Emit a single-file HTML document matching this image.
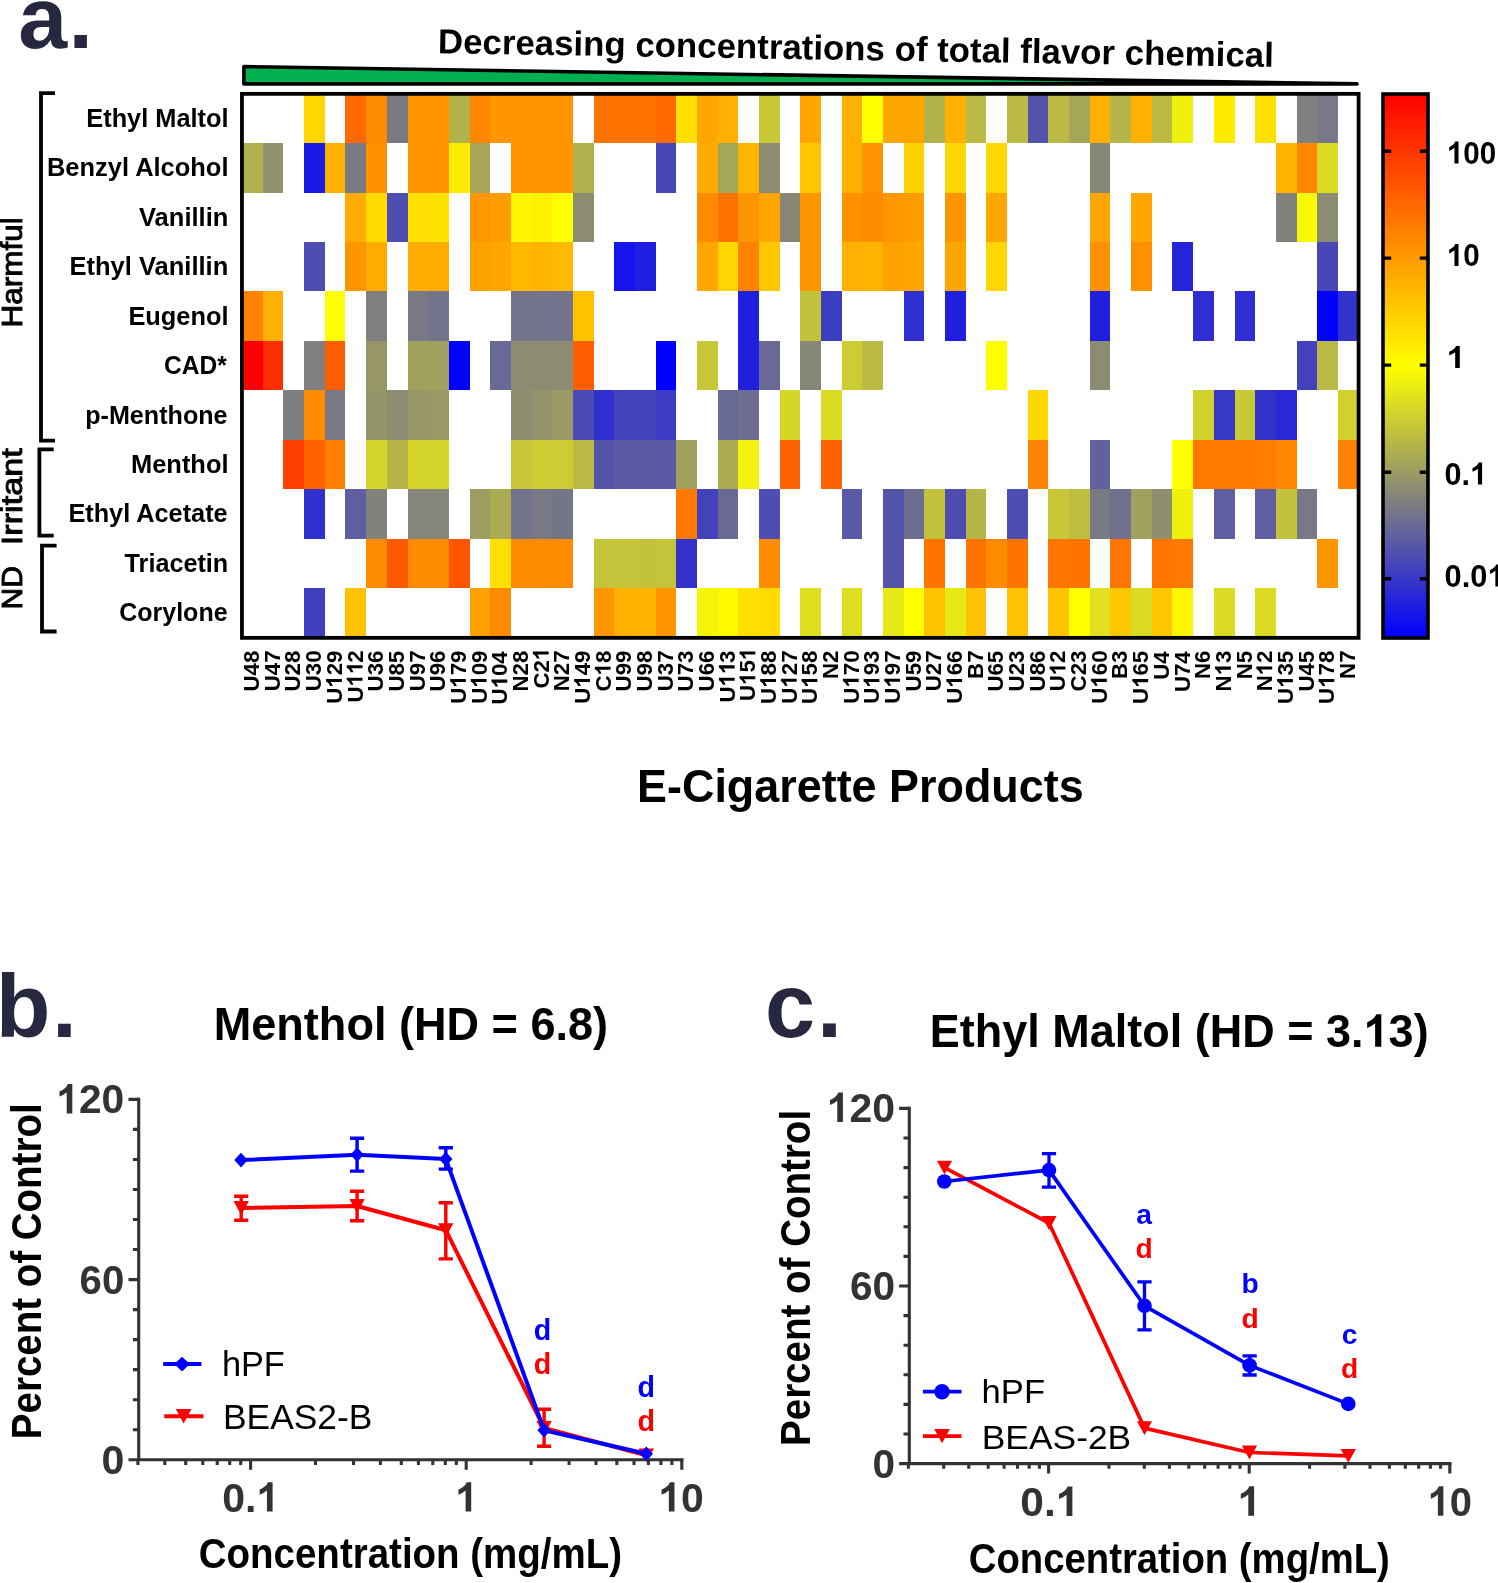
<!DOCTYPE html>
<html><head><meta charset="utf-8"><title>Figure</title>
<style>html,body{margin:0;padding:0;background:#fff;width:1498px;height:1583px;overflow:hidden}svg{display:block;will-change:transform}text{font-family:'Liberation Sans',sans-serif}</style></head><body>
<svg width="1498" height="1583" viewBox="0 0 1498 1583">
<rect width="1498" height="1583" fill="#fff"/>
<defs><linearGradient id="cb" x1="0" y1="0" x2="0" y2="1"><stop offset="0" stop-color="#ff0000"/><stop offset="0.5" stop-color="#ffff00"/><stop offset="1" stop-color="#0000ff"/></linearGradient></defs>
<text x="18.3" y="48.2" font-size="88" font-weight="bold" fill="#27273f">a<tspan dx="1.2">.</tspan></text>
<g transform="rotate(0.95 440.2 53.2)">
<text transform="translate(437.85 53.20) scale(1.0038 1)" font-size="34.7" font-weight="bold">Decreasing concentrations of total flavor chemical</text>
</g>
<polygon points="243.9,66.6 243.9,83.9 1357,83.9" fill="#00b050" stroke="#000" stroke-width="3.6" stroke-linejoin="round"/>
<g shape-rendering="crispEdges">
<rect x="304.12" y="93.65" width="20.68" height="49.44" fill="#ffd600"/>
<rect x="345.48" y="93.65" width="20.67" height="49.44" fill="#ff6900"/>
<rect x="366.15" y="93.65" width="20.68" height="49.44" fill="#ff8c00"/>
<rect x="386.82" y="93.65" width="20.68" height="49.44" fill="#7a7a85"/>
<rect x="407.50" y="93.65" width="41.35" height="49.44" fill="#ff9600"/>
<rect x="448.85" y="93.65" width="20.67" height="49.44" fill="#b2b24c"/>
<rect x="469.52" y="93.65" width="20.68" height="49.44" fill="#ff8700"/>
<rect x="490.20" y="93.65" width="82.70" height="49.44" fill="#ff9600"/>
<rect x="593.58" y="93.65" width="62.02" height="49.44" fill="#ff7300"/>
<rect x="655.60" y="93.65" width="20.67" height="49.44" fill="#ff6b00"/>
<rect x="676.27" y="93.65" width="20.68" height="49.44" fill="#ffe000"/>
<rect x="696.95" y="93.65" width="20.67" height="49.44" fill="#ffa600"/>
<rect x="717.62" y="93.65" width="20.68" height="49.44" fill="#ffb000"/>
<rect x="758.98" y="93.65" width="20.68" height="49.44" fill="#c7c738"/>
<rect x="800.33" y="93.65" width="20.67" height="49.44" fill="#ffa600"/>
<rect x="841.68" y="93.65" width="20.67" height="49.44" fill="#ffb000"/>
<rect x="862.35" y="93.65" width="20.68" height="49.44" fill="#ffff00"/>
<rect x="883.03" y="93.65" width="41.35" height="49.44" fill="#ffa600"/>
<rect x="924.38" y="93.65" width="20.68" height="49.44" fill="#b2b24c"/>
<rect x="945.05" y="93.65" width="20.67" height="49.44" fill="#ffb000"/>
<rect x="965.73" y="93.65" width="20.68" height="49.44" fill="#baba45"/>
<rect x="1007.08" y="93.65" width="20.67" height="49.44" fill="#baba45"/>
<rect x="1027.75" y="93.65" width="20.67" height="49.44" fill="#5252ad"/>
<rect x="1048.42" y="93.65" width="20.67" height="49.44" fill="#baba45"/>
<rect x="1069.10" y="93.65" width="20.68" height="49.44" fill="#a6a659"/>
<rect x="1089.78" y="93.65" width="20.67" height="49.44" fill="#ffb000"/>
<rect x="1110.45" y="93.65" width="20.67" height="49.44" fill="#b5b54a"/>
<rect x="1131.12" y="93.65" width="20.67" height="49.44" fill="#ffb000"/>
<rect x="1151.80" y="93.65" width="20.67" height="49.44" fill="#baba45"/>
<rect x="1172.47" y="93.65" width="20.68" height="49.44" fill="#f0f00f"/>
<rect x="1213.83" y="93.65" width="20.67" height="49.44" fill="#ffeb00"/>
<rect x="1255.17" y="93.65" width="20.67" height="49.44" fill="#ffe000"/>
<rect x="1296.52" y="93.65" width="20.68" height="49.44" fill="#808080"/>
<rect x="1317.20" y="93.65" width="20.67" height="49.44" fill="#787887"/>
<rect x="242.10" y="143.09" width="20.67" height="49.44" fill="#b0b04f"/>
<rect x="262.77" y="143.09" width="20.68" height="49.44" fill="#91916e"/>
<rect x="304.12" y="143.09" width="20.68" height="49.44" fill="#1919e6"/>
<rect x="324.80" y="143.09" width="20.68" height="49.44" fill="#ffb000"/>
<rect x="345.48" y="143.09" width="20.67" height="49.44" fill="#7a7a85"/>
<rect x="366.15" y="143.09" width="20.68" height="49.44" fill="#ff9100"/>
<rect x="407.50" y="143.09" width="41.35" height="49.44" fill="#ff9600"/>
<rect x="448.85" y="143.09" width="20.67" height="49.44" fill="#ffeb00"/>
<rect x="469.52" y="143.09" width="20.68" height="49.44" fill="#a6a659"/>
<rect x="510.88" y="143.09" width="62.02" height="49.44" fill="#ff9600"/>
<rect x="572.90" y="143.09" width="20.68" height="49.44" fill="#b0b04f"/>
<rect x="655.60" y="143.09" width="20.67" height="49.44" fill="#4747b8"/>
<rect x="696.95" y="143.09" width="20.67" height="49.44" fill="#ffab00"/>
<rect x="717.62" y="143.09" width="20.68" height="49.44" fill="#a6a659"/>
<rect x="738.30" y="143.09" width="20.67" height="49.44" fill="#ffb500"/>
<rect x="758.98" y="143.09" width="20.68" height="49.44" fill="#8c8c73"/>
<rect x="800.33" y="143.09" width="20.67" height="49.44" fill="#ffc700"/>
<rect x="841.68" y="143.09" width="20.67" height="49.44" fill="#ffb000"/>
<rect x="862.35" y="143.09" width="20.68" height="49.44" fill="#ff9600"/>
<rect x="903.70" y="143.09" width="20.67" height="49.44" fill="#ffd100"/>
<rect x="945.05" y="143.09" width="20.67" height="49.44" fill="#ffd600"/>
<rect x="986.40" y="143.09" width="20.67" height="49.44" fill="#ffd600"/>
<rect x="1089.78" y="143.09" width="20.67" height="49.44" fill="#878778"/>
<rect x="1275.85" y="143.09" width="20.67" height="49.44" fill="#ffb500"/>
<rect x="1296.52" y="143.09" width="20.68" height="49.44" fill="#ff8700"/>
<rect x="1317.20" y="143.09" width="20.67" height="49.44" fill="#dbdb24"/>
<rect x="345.48" y="192.53" width="20.67" height="49.44" fill="#ffab00"/>
<rect x="366.15" y="192.53" width="20.68" height="49.44" fill="#ffdb00"/>
<rect x="386.82" y="192.53" width="20.68" height="49.44" fill="#4d4db2"/>
<rect x="407.50" y="192.53" width="20.68" height="49.44" fill="#ffe000"/>
<rect x="428.18" y="192.53" width="20.68" height="49.44" fill="#ffe300"/>
<rect x="469.52" y="192.53" width="20.68" height="49.44" fill="#ff9600"/>
<rect x="490.20" y="192.53" width="20.67" height="49.44" fill="#ff9c00"/>
<rect x="510.88" y="192.53" width="20.67" height="49.44" fill="#fff500"/>
<rect x="531.55" y="192.53" width="20.68" height="49.44" fill="#fff000"/>
<rect x="552.23" y="192.53" width="20.67" height="49.44" fill="#ffff00"/>
<rect x="572.90" y="192.53" width="20.68" height="49.44" fill="#8c8c73"/>
<rect x="696.95" y="192.53" width="20.67" height="49.44" fill="#ff8c00"/>
<rect x="717.62" y="192.53" width="20.68" height="49.44" fill="#ff7300"/>
<rect x="738.30" y="192.53" width="20.67" height="49.44" fill="#ff9600"/>
<rect x="758.98" y="192.53" width="20.68" height="49.44" fill="#ffa600"/>
<rect x="779.65" y="192.53" width="20.67" height="49.44" fill="#878778"/>
<rect x="800.33" y="192.53" width="20.67" height="49.44" fill="#ff9600"/>
<rect x="841.68" y="192.53" width="20.67" height="49.44" fill="#ff9100"/>
<rect x="862.35" y="192.53" width="20.68" height="49.44" fill="#ff8c00"/>
<rect x="883.03" y="192.53" width="20.67" height="49.44" fill="#ff9600"/>
<rect x="903.70" y="192.53" width="20.67" height="49.44" fill="#ff9c00"/>
<rect x="945.05" y="192.53" width="20.67" height="49.44" fill="#ff9600"/>
<rect x="986.40" y="192.53" width="20.67" height="49.44" fill="#ffa600"/>
<rect x="1089.78" y="192.53" width="20.67" height="49.44" fill="#ffa600"/>
<rect x="1131.12" y="192.53" width="20.67" height="49.44" fill="#ffa600"/>
<rect x="1275.85" y="192.53" width="20.67" height="49.44" fill="#82827d"/>
<rect x="1296.52" y="192.53" width="20.68" height="49.44" fill="#f7f708"/>
<rect x="1317.20" y="192.53" width="20.67" height="49.44" fill="#8c8c73"/>
<rect x="304.12" y="241.97" width="20.68" height="49.44" fill="#4d4db2"/>
<rect x="345.48" y="241.97" width="20.67" height="49.44" fill="#ff9600"/>
<rect x="366.15" y="241.97" width="20.68" height="49.44" fill="#ffab00"/>
<rect x="407.50" y="241.97" width="41.35" height="49.44" fill="#ffab00"/>
<rect x="469.52" y="241.97" width="20.68" height="49.44" fill="#ffa100"/>
<rect x="490.20" y="241.97" width="20.67" height="49.44" fill="#ffa600"/>
<rect x="510.88" y="241.97" width="20.67" height="49.44" fill="#ffba00"/>
<rect x="531.55" y="241.97" width="20.68" height="49.44" fill="#ffb500"/>
<rect x="552.23" y="241.97" width="20.67" height="49.44" fill="#ffba00"/>
<rect x="614.25" y="241.97" width="20.67" height="49.44" fill="#1414eb"/>
<rect x="634.92" y="241.97" width="20.68" height="49.44" fill="#1f1fe0"/>
<rect x="696.95" y="241.97" width="20.67" height="49.44" fill="#ffa600"/>
<rect x="717.62" y="241.97" width="20.68" height="49.44" fill="#ffd600"/>
<rect x="738.30" y="241.97" width="20.67" height="49.44" fill="#ff8200"/>
<rect x="758.98" y="241.97" width="20.68" height="49.44" fill="#ffc700"/>
<rect x="800.33" y="241.97" width="20.67" height="49.44" fill="#ff9600"/>
<rect x="841.68" y="241.97" width="20.67" height="49.44" fill="#ffb000"/>
<rect x="862.35" y="241.97" width="20.68" height="49.44" fill="#ffb500"/>
<rect x="883.03" y="241.97" width="20.67" height="49.44" fill="#ffa100"/>
<rect x="903.70" y="241.97" width="20.67" height="49.44" fill="#ffa600"/>
<rect x="945.05" y="241.97" width="20.67" height="49.44" fill="#ffa600"/>
<rect x="986.40" y="241.97" width="20.67" height="49.44" fill="#ffd600"/>
<rect x="1089.78" y="241.97" width="20.67" height="49.44" fill="#ff9100"/>
<rect x="1131.12" y="241.97" width="20.67" height="49.44" fill="#ff9100"/>
<rect x="1172.47" y="241.97" width="20.68" height="49.44" fill="#2424db"/>
<rect x="1317.20" y="241.97" width="20.67" height="49.44" fill="#4747b8"/>
<rect x="242.10" y="291.41" width="20.67" height="49.44" fill="#ff8200"/>
<rect x="262.77" y="291.41" width="20.68" height="49.44" fill="#ffb000"/>
<rect x="324.80" y="291.41" width="20.68" height="49.44" fill="#ffff00"/>
<rect x="366.15" y="291.41" width="20.68" height="49.44" fill="#808080"/>
<rect x="407.50" y="291.41" width="20.68" height="49.44" fill="#787887"/>
<rect x="428.18" y="291.41" width="20.68" height="49.44" fill="#73738c"/>
<rect x="510.88" y="291.41" width="62.02" height="49.44" fill="#73738c"/>
<rect x="572.90" y="291.41" width="20.68" height="49.44" fill="#ffc200"/>
<rect x="738.30" y="291.41" width="20.67" height="49.44" fill="#1f1fe0"/>
<rect x="800.33" y="291.41" width="20.67" height="49.44" fill="#c2c23d"/>
<rect x="821.00" y="291.41" width="20.68" height="49.44" fill="#3d3dc2"/>
<rect x="903.70" y="291.41" width="20.67" height="49.44" fill="#2e2ed1"/>
<rect x="945.05" y="291.41" width="20.67" height="49.44" fill="#1f1fe0"/>
<rect x="1089.78" y="291.41" width="20.67" height="49.44" fill="#1f1fe0"/>
<rect x="1193.15" y="291.41" width="20.67" height="49.44" fill="#2e2ed1"/>
<rect x="1234.50" y="291.41" width="20.67" height="49.44" fill="#2e2ed1"/>
<rect x="1317.20" y="291.41" width="20.67" height="49.44" fill="#0000ff"/>
<rect x="1337.88" y="291.41" width="20.67" height="49.44" fill="#3333cc"/>
<rect x="242.10" y="340.85" width="20.67" height="49.44" fill="#ff0000"/>
<rect x="262.77" y="340.85" width="20.68" height="49.44" fill="#ff2e00"/>
<rect x="304.12" y="340.85" width="20.68" height="49.44" fill="#808080"/>
<rect x="324.80" y="340.85" width="20.68" height="49.44" fill="#ff5e00"/>
<rect x="366.15" y="340.85" width="20.68" height="49.44" fill="#969669"/>
<rect x="407.50" y="340.85" width="41.35" height="49.44" fill="#a1a15e"/>
<rect x="448.85" y="340.85" width="20.67" height="49.44" fill="#0000ff"/>
<rect x="490.20" y="340.85" width="20.67" height="49.44" fill="#696996"/>
<rect x="510.88" y="340.85" width="62.02" height="49.44" fill="#8c8c73"/>
<rect x="572.90" y="340.85" width="20.68" height="49.44" fill="#ff5e00"/>
<rect x="655.60" y="340.85" width="20.67" height="49.44" fill="#0000ff"/>
<rect x="696.95" y="340.85" width="20.67" height="49.44" fill="#c7c738"/>
<rect x="738.30" y="340.85" width="20.67" height="49.44" fill="#1f1fe0"/>
<rect x="758.98" y="340.85" width="20.68" height="49.44" fill="#696996"/>
<rect x="800.33" y="340.85" width="20.67" height="49.44" fill="#878778"/>
<rect x="841.68" y="340.85" width="20.67" height="49.44" fill="#cccc33"/>
<rect x="862.35" y="340.85" width="20.68" height="49.44" fill="#baba45"/>
<rect x="986.40" y="340.85" width="20.67" height="49.44" fill="#ffff00"/>
<rect x="1089.78" y="340.85" width="20.67" height="49.44" fill="#8c8c73"/>
<rect x="1296.52" y="340.85" width="20.68" height="49.44" fill="#4242bd"/>
<rect x="1317.20" y="340.85" width="20.67" height="49.44" fill="#baba45"/>
<rect x="283.45" y="390.29" width="20.68" height="49.44" fill="#7d7d82"/>
<rect x="304.12" y="390.29" width="20.68" height="49.44" fill="#ff8c00"/>
<rect x="324.80" y="390.29" width="20.68" height="49.44" fill="#787887"/>
<rect x="366.15" y="390.29" width="20.68" height="49.44" fill="#94946b"/>
<rect x="386.82" y="390.29" width="20.68" height="49.44" fill="#8c8c73"/>
<rect x="407.50" y="390.29" width="20.68" height="49.44" fill="#969669"/>
<rect x="428.18" y="390.29" width="20.68" height="49.44" fill="#999966"/>
<rect x="510.88" y="390.29" width="20.67" height="49.44" fill="#8f8f70"/>
<rect x="531.55" y="390.29" width="20.68" height="49.44" fill="#94946b"/>
<rect x="552.23" y="390.29" width="20.67" height="49.44" fill="#999966"/>
<rect x="572.90" y="390.29" width="20.68" height="49.44" fill="#4a4ab5"/>
<rect x="593.58" y="390.29" width="20.67" height="49.44" fill="#3030cf"/>
<rect x="614.25" y="390.29" width="41.35" height="49.44" fill="#4242bd"/>
<rect x="655.60" y="390.29" width="20.67" height="49.44" fill="#3b3bc4"/>
<rect x="717.62" y="390.29" width="20.68" height="49.44" fill="#696996"/>
<rect x="738.30" y="390.29" width="20.67" height="49.44" fill="#6e6e91"/>
<rect x="779.65" y="390.29" width="20.67" height="49.44" fill="#d6d629"/>
<rect x="821.00" y="390.29" width="20.68" height="49.44" fill="#dbdb24"/>
<rect x="1027.75" y="390.29" width="20.67" height="49.44" fill="#ffd600"/>
<rect x="1193.15" y="390.29" width="20.67" height="49.44" fill="#d1d12e"/>
<rect x="1213.83" y="390.29" width="20.67" height="49.44" fill="#3838c7"/>
<rect x="1234.50" y="390.29" width="20.67" height="49.44" fill="#c9c936"/>
<rect x="1255.17" y="390.29" width="20.67" height="49.44" fill="#3333cc"/>
<rect x="1275.85" y="390.29" width="20.67" height="49.44" fill="#2929d6"/>
<rect x="1337.88" y="390.29" width="20.67" height="49.44" fill="#d1d12e"/>
<rect x="283.45" y="439.73" width="20.68" height="49.44" fill="#ff4000"/>
<rect x="304.12" y="439.73" width="20.68" height="49.44" fill="#ff6300"/>
<rect x="324.80" y="439.73" width="20.68" height="49.44" fill="#ff7d00"/>
<rect x="366.15" y="439.73" width="20.68" height="49.44" fill="#d4d42b"/>
<rect x="386.82" y="439.73" width="20.68" height="49.44" fill="#b5b54a"/>
<rect x="407.50" y="439.73" width="41.35" height="49.44" fill="#d4d42b"/>
<rect x="510.88" y="439.73" width="20.67" height="49.44" fill="#c7c738"/>
<rect x="531.55" y="439.73" width="41.35" height="49.44" fill="#cccc33"/>
<rect x="572.90" y="439.73" width="20.68" height="49.44" fill="#baba45"/>
<rect x="593.58" y="439.73" width="20.67" height="49.44" fill="#5454ab"/>
<rect x="614.25" y="439.73" width="62.02" height="49.44" fill="#5959a6"/>
<rect x="676.27" y="439.73" width="20.68" height="49.44" fill="#a1a15e"/>
<rect x="717.62" y="439.73" width="20.68" height="49.44" fill="#abab54"/>
<rect x="738.30" y="439.73" width="20.67" height="49.44" fill="#f2f20d"/>
<rect x="779.65" y="439.73" width="20.67" height="49.44" fill="#ff6300"/>
<rect x="821.00" y="439.73" width="20.68" height="49.44" fill="#ff6300"/>
<rect x="1027.75" y="439.73" width="20.67" height="49.44" fill="#ff8200"/>
<rect x="1089.78" y="439.73" width="20.67" height="49.44" fill="#61619e"/>
<rect x="1172.47" y="439.73" width="20.68" height="49.44" fill="#ffff00"/>
<rect x="1193.15" y="439.73" width="62.02" height="49.44" fill="#ff7800"/>
<rect x="1255.17" y="439.73" width="20.67" height="49.44" fill="#ff7d00"/>
<rect x="1275.85" y="439.73" width="20.67" height="49.44" fill="#ff8700"/>
<rect x="1337.88" y="439.73" width="20.67" height="49.44" fill="#ff8200"/>
<rect x="304.12" y="489.17" width="20.68" height="49.44" fill="#3030cf"/>
<rect x="345.48" y="489.17" width="20.67" height="49.44" fill="#5e5ea1"/>
<rect x="366.15" y="489.17" width="20.68" height="49.44" fill="#82827d"/>
<rect x="407.50" y="489.17" width="41.35" height="49.44" fill="#85857a"/>
<rect x="469.52" y="489.17" width="20.68" height="49.44" fill="#9e9e61"/>
<rect x="490.20" y="489.17" width="20.67" height="49.44" fill="#abab54"/>
<rect x="510.88" y="489.17" width="20.67" height="49.44" fill="#73738c"/>
<rect x="531.55" y="489.17" width="20.68" height="49.44" fill="#787887"/>
<rect x="552.23" y="489.17" width="20.67" height="49.44" fill="#75758a"/>
<rect x="676.27" y="489.17" width="20.68" height="49.44" fill="#ff7800"/>
<rect x="696.95" y="489.17" width="20.67" height="49.44" fill="#4242bd"/>
<rect x="717.62" y="489.17" width="20.68" height="49.44" fill="#696996"/>
<rect x="758.98" y="489.17" width="20.68" height="49.44" fill="#4d4db2"/>
<rect x="841.68" y="489.17" width="20.67" height="49.44" fill="#5959a6"/>
<rect x="883.03" y="489.17" width="20.67" height="49.44" fill="#5454ab"/>
<rect x="903.70" y="489.17" width="20.67" height="49.44" fill="#6e6e91"/>
<rect x="924.38" y="489.17" width="20.68" height="49.44" fill="#c2c23d"/>
<rect x="945.05" y="489.17" width="20.67" height="49.44" fill="#4d4db2"/>
<rect x="965.73" y="489.17" width="20.68" height="49.44" fill="#b5b54a"/>
<rect x="1007.08" y="489.17" width="20.67" height="49.44" fill="#4d4db2"/>
<rect x="1048.42" y="489.17" width="20.67" height="49.44" fill="#c7c738"/>
<rect x="1069.10" y="489.17" width="20.68" height="49.44" fill="#bdbd42"/>
<rect x="1089.78" y="489.17" width="20.67" height="49.44" fill="#7a7a85"/>
<rect x="1110.45" y="489.17" width="20.67" height="49.44" fill="#70708f"/>
<rect x="1131.12" y="489.17" width="20.67" height="49.44" fill="#a1a15e"/>
<rect x="1151.80" y="489.17" width="20.67" height="49.44" fill="#8f8f70"/>
<rect x="1172.47" y="489.17" width="20.68" height="49.44" fill="#f0f00f"/>
<rect x="1213.83" y="489.17" width="20.67" height="49.44" fill="#5e5ea1"/>
<rect x="1255.17" y="489.17" width="20.67" height="49.44" fill="#5e5ea1"/>
<rect x="1275.85" y="489.17" width="20.67" height="49.44" fill="#c2c23d"/>
<rect x="1296.52" y="489.17" width="20.68" height="49.44" fill="#787887"/>
<rect x="366.15" y="538.61" width="20.68" height="49.44" fill="#ff8c00"/>
<rect x="386.82" y="538.61" width="20.68" height="49.44" fill="#ff5900"/>
<rect x="407.50" y="538.61" width="41.35" height="49.44" fill="#ff8c00"/>
<rect x="448.85" y="538.61" width="20.67" height="49.44" fill="#ff5400"/>
<rect x="490.20" y="538.61" width="20.67" height="49.44" fill="#ffe000"/>
<rect x="510.88" y="538.61" width="62.02" height="49.44" fill="#ff8c00"/>
<rect x="593.58" y="538.61" width="41.35" height="49.44" fill="#c4c43b"/>
<rect x="634.92" y="538.61" width="20.68" height="49.44" fill="#c2c23d"/>
<rect x="655.60" y="538.61" width="20.67" height="49.44" fill="#c4c43b"/>
<rect x="676.27" y="538.61" width="20.68" height="49.44" fill="#3333cc"/>
<rect x="758.98" y="538.61" width="20.68" height="49.44" fill="#ff8c00"/>
<rect x="883.03" y="538.61" width="20.67" height="49.44" fill="#5454ab"/>
<rect x="924.38" y="538.61" width="20.68" height="49.44" fill="#ff7300"/>
<rect x="965.73" y="538.61" width="20.68" height="49.44" fill="#ff7300"/>
<rect x="986.40" y="538.61" width="20.67" height="49.44" fill="#ff8c00"/>
<rect x="1007.08" y="538.61" width="20.67" height="49.44" fill="#ff7300"/>
<rect x="1048.42" y="538.61" width="20.67" height="49.44" fill="#ff7500"/>
<rect x="1069.10" y="538.61" width="20.68" height="49.44" fill="#ff7300"/>
<rect x="1110.45" y="538.61" width="20.67" height="49.44" fill="#ff7500"/>
<rect x="1151.80" y="538.61" width="20.67" height="49.44" fill="#ff7500"/>
<rect x="1172.47" y="538.61" width="20.68" height="49.44" fill="#ff7800"/>
<rect x="1317.20" y="538.61" width="20.67" height="49.44" fill="#ff9600"/>
<rect x="304.12" y="588.05" width="20.68" height="49.44" fill="#4040bf"/>
<rect x="345.48" y="588.05" width="20.67" height="49.44" fill="#ffc200"/>
<rect x="469.52" y="588.05" width="20.68" height="49.44" fill="#ffa100"/>
<rect x="490.20" y="588.05" width="20.67" height="49.44" fill="#ff8c00"/>
<rect x="593.58" y="588.05" width="20.67" height="49.44" fill="#ff9600"/>
<rect x="614.25" y="588.05" width="20.67" height="49.44" fill="#ffb000"/>
<rect x="634.92" y="588.05" width="20.68" height="49.44" fill="#ffb500"/>
<rect x="655.60" y="588.05" width="20.67" height="49.44" fill="#ff9600"/>
<rect x="696.95" y="588.05" width="20.67" height="49.44" fill="#f5f50a"/>
<rect x="717.62" y="588.05" width="20.68" height="49.44" fill="#fffa00"/>
<rect x="738.30" y="588.05" width="20.67" height="49.44" fill="#ffe000"/>
<rect x="758.98" y="588.05" width="20.68" height="49.44" fill="#ffdb00"/>
<rect x="800.33" y="588.05" width="20.67" height="49.44" fill="#dede21"/>
<rect x="841.68" y="588.05" width="20.67" height="49.44" fill="#dede21"/>
<rect x="883.03" y="588.05" width="20.67" height="49.44" fill="#e8e817"/>
<rect x="903.70" y="588.05" width="20.67" height="49.44" fill="#ffff00"/>
<rect x="924.38" y="588.05" width="20.68" height="49.44" fill="#ffc200"/>
<rect x="945.05" y="588.05" width="20.67" height="49.44" fill="#e8e817"/>
<rect x="965.73" y="588.05" width="20.68" height="49.44" fill="#ffc200"/>
<rect x="1007.08" y="588.05" width="20.67" height="49.44" fill="#ffc200"/>
<rect x="1048.42" y="588.05" width="20.67" height="49.44" fill="#ffc200"/>
<rect x="1069.10" y="588.05" width="20.68" height="49.44" fill="#ffff00"/>
<rect x="1089.78" y="588.05" width="20.67" height="49.44" fill="#e0e01f"/>
<rect x="1110.45" y="588.05" width="20.67" height="49.44" fill="#ffc700"/>
<rect x="1131.12" y="588.05" width="20.67" height="49.44" fill="#dbdb24"/>
<rect x="1151.80" y="588.05" width="20.67" height="49.44" fill="#ffc700"/>
<rect x="1172.47" y="588.05" width="20.68" height="49.44" fill="#fff500"/>
<rect x="1213.83" y="588.05" width="20.67" height="49.44" fill="#dbdb24"/>
<rect x="1255.17" y="588.05" width="20.67" height="49.44" fill="#dbdb24"/>
</g>
<rect x="241.95" y="93.85" width="1116.65" height="544" fill="none" stroke="#000" stroke-width="3.8"/>
<text transform="translate(86.29 126.87) scale(0.9907 1)" font-size="25.6" font-weight="bold">Ethyl Maltol</text>
<text transform="translate(46.98 176.31) scale(0.9949 1)" font-size="25.6" font-weight="bold">Benzyl Alcohol</text>
<text transform="translate(139.01 225.75) scale(0.9969 1)" font-size="25.6" font-weight="bold">Vanillin</text>
<text transform="translate(69.48 275.19) scale(0.9972 1)" font-size="25.6" font-weight="bold">Ethyl Vanillin</text>
<text transform="translate(128.39 324.63) scale(0.9921 1)" font-size="25.6" font-weight="bold">Eugenol</text>
<text transform="translate(164.02 374.07) scale(0.9599 1)" font-size="25.6" font-weight="bold">CAD*</text>
<text transform="translate(85.17 423.51) scale(0.9823 1)" font-size="25.6" font-weight="bold">p-Menthone</text>
<text transform="translate(130.98 472.95) scale(0.9948 1)" font-size="25.6" font-weight="bold">Menthol</text>
<text transform="translate(68.39 522.39) scale(0.9877 1)" font-size="25.6" font-weight="bold">Ethyl Acetate</text>
<text transform="translate(124.55 571.83) scale(0.9856 1)" font-size="25.6" font-weight="bold">Triacetin</text>
<text transform="translate(119.20 621.27) scale(0.9775 1)" font-size="25.6" font-weight="bold">Corylone</text>
<text transform="translate(259.14 691.53) rotate(-90) scale(1.0120 1)" font-size="22.0" font-weight="bold">U48</text>
<text transform="translate(279.81 691.25) rotate(-90) scale(1.0120 1)" font-size="22.0" font-weight="bold">U47</text>
<text transform="translate(300.49 691.53) rotate(-90) scale(1.0120 1)" font-size="22.0" font-weight="bold">U28</text>
<text transform="translate(321.16 691.31) rotate(-90) scale(1.0120 1)" font-size="22.0" font-weight="bold">U30</text>
<g transform="translate(341.84 703.80) rotate(-90) scale(1.0120 1)" font-size="22.0" font-weight="bold">
<text x="0.00" y="0">U</text>
<path transform="translate(15.89 0) scale(0.01074 -0.01074)" d="M806,0L525,0L525,1059Q371,915 162,846L162,1101Q272,1137 401,1237.5Q530,1338 578,1472L806,1472Z"/>
<text x="28.12" y="0">29</text>
</g>
<g transform="translate(362.51 702.48) rotate(-90) scale(1.0120 1)" font-size="22.0" font-weight="bold">
<text x="0.00" y="0">U</text>
<path transform="translate(15.89 0) scale(0.01074 -0.01074)" d="M806,0L525,0L525,1059Q371,915 162,846L162,1101Q272,1137 401,1237.5Q530,1338 578,1472L806,1472Z"/>
<path transform="translate(28.12 0) scale(0.01074 -0.01074)" d="M806,0L525,0L525,1059Q371,915 162,846L162,1101Q272,1137 401,1237.5Q530,1338 578,1472L806,1472Z"/>
<text x="39.15" y="0">2</text>
</g>
<text transform="translate(383.19 691.42) rotate(-90) scale(1.0120 1)" font-size="22.0" font-weight="bold">U36</text>
<text transform="translate(403.86 691.59) rotate(-90) scale(1.0120 1)" font-size="22.0" font-weight="bold">U85</text>
<text transform="translate(424.54 691.25) rotate(-90) scale(1.0120 1)" font-size="22.0" font-weight="bold">U97</text>
<text transform="translate(445.21 691.42) rotate(-90) scale(1.0120 1)" font-size="22.0" font-weight="bold">U96</text>
<g transform="translate(465.89 703.80) rotate(-90) scale(1.0120 1)" font-size="22.0" font-weight="bold">
<text x="0.00" y="0">U</text>
<path transform="translate(15.89 0) scale(0.01074 -0.01074)" d="M806,0L525,0L525,1059Q371,915 162,846L162,1101Q272,1137 401,1237.5Q530,1338 578,1472L806,1472Z"/>
<text x="28.12" y="0">79</text>
</g>
<g transform="translate(486.56 703.80) rotate(-90) scale(1.0120 1)" font-size="22.0" font-weight="bold">
<text x="0.00" y="0">U</text>
<path transform="translate(15.89 0) scale(0.01074 -0.01074)" d="M806,0L525,0L525,1059Q371,915 162,846L162,1101Q272,1137 401,1237.5Q530,1338 578,1472L806,1472Z"/>
<text x="28.12" y="0">09</text>
</g>
<g transform="translate(507.24 704.46) rotate(-90) scale(1.0120 1)" font-size="22.0" font-weight="bold">
<text x="0.00" y="0">U</text>
<path transform="translate(15.89 0) scale(0.01074 -0.01074)" d="M806,0L525,0L525,1059Q371,915 162,846L162,1101Q272,1137 401,1237.5Q530,1338 578,1472L806,1472Z"/>
<text x="28.12" y="0">04</text>
</g>
<text transform="translate(527.91 691.53) rotate(-90) scale(1.0120 1)" font-size="22.0" font-weight="bold">N28</text>
<g transform="translate(548.59 688.62) rotate(-90) scale(1.0120 1)" font-size="22.0" font-weight="bold">
<text x="0.00" y="0">C2</text>
<path transform="translate(28.12 0) scale(0.01074 -0.01074)" d="M806,0L525,0L525,1059Q371,915 162,846L162,1101Q272,1137 401,1237.5Q530,1338 578,1472L806,1472Z"/>
</g>
<text transform="translate(569.26 691.25) rotate(-90) scale(1.0120 1)" font-size="22.0" font-weight="bold">N27</text>
<g transform="translate(589.94 703.80) rotate(-90) scale(1.0120 1)" font-size="22.0" font-weight="bold">
<text x="0.00" y="0">U</text>
<path transform="translate(15.89 0) scale(0.01074 -0.01074)" d="M806,0L525,0L525,1059Q371,915 162,846L162,1101Q272,1137 401,1237.5Q530,1338 578,1472L806,1472Z"/>
<text x="28.12" y="0">49</text>
</g>
<g transform="translate(610.61 691.55) rotate(-90) scale(1.0120 1)" font-size="22.0" font-weight="bold">
<text x="0.00" y="0">C</text>
<path transform="translate(15.89 0) scale(0.01074 -0.01074)" d="M806,0L525,0L525,1059Q371,915 162,846L162,1101Q272,1137 401,1237.5Q530,1338 578,1472L806,1472Z"/>
<text x="28.12" y="0">8</text>
</g>
<text transform="translate(631.29 691.42) rotate(-90) scale(1.0120 1)" font-size="22.0" font-weight="bold">U99</text>
<text transform="translate(651.96 691.53) rotate(-90) scale(1.0120 1)" font-size="22.0" font-weight="bold">U98</text>
<text transform="translate(672.64 691.25) rotate(-90) scale(1.0120 1)" font-size="22.0" font-weight="bold">U37</text>
<text transform="translate(693.31 691.42) rotate(-90) scale(1.0120 1)" font-size="22.0" font-weight="bold">U73</text>
<text transform="translate(713.99 691.42) rotate(-90) scale(1.0120 1)" font-size="22.0" font-weight="bold">U66</text>
<g transform="translate(734.66 702.59) rotate(-90) scale(1.0120 1)" font-size="22.0" font-weight="bold">
<text x="0.00" y="0">U</text>
<path transform="translate(15.89 0) scale(0.01074 -0.01074)" d="M806,0L525,0L525,1059Q371,915 162,846L162,1101Q272,1137 401,1237.5Q530,1338 578,1472L806,1472Z"/>
<path transform="translate(28.12 0) scale(0.01074 -0.01074)" d="M806,0L525,0L525,1059Q371,915 162,846L162,1101Q272,1137 401,1237.5Q530,1338 578,1472L806,1472Z"/>
<text x="39.15" y="0">3</text>
</g>
<g transform="translate(755.34 701.01) rotate(-90) scale(1.0120 1)" font-size="22.0" font-weight="bold">
<text x="0.00" y="0">U</text>
<path transform="translate(15.89 0) scale(0.01074 -0.01074)" d="M806,0L525,0L525,1059Q371,915 162,846L162,1101Q272,1137 401,1237.5Q530,1338 578,1472L806,1472Z"/>
<text x="28.12" y="0">5</text>
<path transform="translate(40.36 0) scale(0.01074 -0.01074)" d="M806,0L525,0L525,1059Q371,915 162,846L162,1101Q272,1137 401,1237.5Q530,1338 578,1472L806,1472Z"/>
</g>
<g transform="translate(776.01 703.91) rotate(-90) scale(1.0120 1)" font-size="22.0" font-weight="bold">
<text x="0.00" y="0">U</text>
<path transform="translate(15.89 0) scale(0.01074 -0.01074)" d="M806,0L525,0L525,1059Q371,915 162,846L162,1101Q272,1137 401,1237.5Q530,1338 578,1472L806,1472Z"/>
<text x="28.12" y="0">88</text>
</g>
<g transform="translate(796.69 703.63) rotate(-90) scale(1.0120 1)" font-size="22.0" font-weight="bold">
<text x="0.00" y="0">U</text>
<path transform="translate(15.89 0) scale(0.01074 -0.01074)" d="M806,0L525,0L525,1059Q371,915 162,846L162,1101Q272,1137 401,1237.5Q530,1338 578,1472L806,1472Z"/>
<text x="28.12" y="0">27</text>
</g>
<g transform="translate(817.36 703.91) rotate(-90) scale(1.0120 1)" font-size="22.0" font-weight="bold">
<text x="0.00" y="0">U</text>
<path transform="translate(15.89 0) scale(0.01074 -0.01074)" d="M806,0L525,0L525,1059Q371,915 162,846L162,1101Q272,1137 401,1237.5Q530,1338 578,1472L806,1472Z"/>
<text x="28.12" y="0">58</text>
</g>
<text transform="translate(838.04 678.95) rotate(-90) scale(1.0120 1)" font-size="22.0" font-weight="bold">N2</text>
<g transform="translate(858.71 703.68) rotate(-90) scale(1.0120 1)" font-size="22.0" font-weight="bold">
<text x="0.00" y="0">U</text>
<path transform="translate(15.89 0) scale(0.01074 -0.01074)" d="M806,0L525,0L525,1059Q371,915 162,846L162,1101Q272,1137 401,1237.5Q530,1338 578,1472L806,1472Z"/>
<text x="28.12" y="0">70</text>
</g>
<g transform="translate(879.39 703.80) rotate(-90) scale(1.0120 1)" font-size="22.0" font-weight="bold">
<text x="0.00" y="0">U</text>
<path transform="translate(15.89 0) scale(0.01074 -0.01074)" d="M806,0L525,0L525,1059Q371,915 162,846L162,1101Q272,1137 401,1237.5Q530,1338 578,1472L806,1472Z"/>
<text x="28.12" y="0">93</text>
</g>
<g transform="translate(900.06 703.63) rotate(-90) scale(1.0120 1)" font-size="22.0" font-weight="bold">
<text x="0.00" y="0">U</text>
<path transform="translate(15.89 0) scale(0.01074 -0.01074)" d="M806,0L525,0L525,1059Q371,915 162,846L162,1101Q272,1137 401,1237.5Q530,1338 578,1472L806,1472Z"/>
<text x="28.12" y="0">97</text>
</g>
<text transform="translate(920.74 691.42) rotate(-90) scale(1.0120 1)" font-size="22.0" font-weight="bold">U59</text>
<text transform="translate(941.41 691.25) rotate(-90) scale(1.0120 1)" font-size="22.0" font-weight="bold">U27</text>
<g transform="translate(962.09 703.80) rotate(-90) scale(1.0120 1)" font-size="22.0" font-weight="bold">
<text x="0.00" y="0">U</text>
<path transform="translate(15.89 0) scale(0.01074 -0.01074)" d="M806,0L525,0L525,1059Q371,915 162,846L162,1101Q272,1137 401,1237.5Q530,1338 578,1472L806,1472Z"/>
<text x="28.12" y="0">66</text>
</g>
<text transform="translate(982.76 678.90) rotate(-90) scale(1.0120 1)" font-size="22.0" font-weight="bold">B7</text>
<text transform="translate(1003.44 691.59) rotate(-90) scale(1.0120 1)" font-size="22.0" font-weight="bold">U65</text>
<text transform="translate(1024.11 691.42) rotate(-90) scale(1.0120 1)" font-size="22.0" font-weight="bold">U23</text>
<text transform="translate(1044.79 691.42) rotate(-90) scale(1.0120 1)" font-size="22.0" font-weight="bold">U86</text>
<g transform="translate(1065.46 691.33) rotate(-90) scale(1.0120 1)" font-size="22.0" font-weight="bold">
<text x="0.00" y="0">U</text>
<path transform="translate(15.89 0) scale(0.01074 -0.01074)" d="M806,0L525,0L525,1059Q371,915 162,846L162,1101Q272,1137 401,1237.5Q530,1338 578,1472L806,1472Z"/>
<text x="28.12" y="0">2</text>
</g>
<text transform="translate(1086.14 691.42) rotate(-90) scale(1.0120 1)" font-size="22.0" font-weight="bold">C23</text>
<g transform="translate(1106.81 703.68) rotate(-90) scale(1.0120 1)" font-size="22.0" font-weight="bold">
<text x="0.00" y="0">U</text>
<path transform="translate(15.89 0) scale(0.01074 -0.01074)" d="M806,0L525,0L525,1059Q371,915 162,846L162,1101Q272,1137 401,1237.5Q530,1338 578,1472L806,1472Z"/>
<text x="28.12" y="0">60</text>
</g>
<text transform="translate(1127.49 679.06) rotate(-90) scale(1.0120 1)" font-size="22.0" font-weight="bold">B3</text>
<g transform="translate(1148.16 703.96) rotate(-90) scale(1.0120 1)" font-size="22.0" font-weight="bold">
<text x="0.00" y="0">U</text>
<path transform="translate(15.89 0) scale(0.01074 -0.01074)" d="M806,0L525,0L525,1059Q371,915 162,846L162,1101Q272,1137 401,1237.5Q530,1338 578,1472L806,1472Z"/>
<text x="28.12" y="0">65</text>
</g>
<text transform="translate(1168.84 679.73) rotate(-90) scale(1.0120 1)" font-size="22.0" font-weight="bold">U4</text>
<text transform="translate(1189.51 692.09) rotate(-90) scale(1.0120 1)" font-size="22.0" font-weight="bold">U74</text>
<text transform="translate(1210.19 679.06) rotate(-90) scale(1.0120 1)" font-size="22.0" font-weight="bold">N6</text>
<g transform="translate(1230.86 691.44) rotate(-90) scale(1.0120 1)" font-size="22.0" font-weight="bold">
<text x="0.00" y="0">N</text>
<path transform="translate(15.89 0) scale(0.01074 -0.01074)" d="M806,0L525,0L525,1059Q371,915 162,846L162,1101Q272,1137 401,1237.5Q530,1338 578,1472L806,1472Z"/>
<text x="28.12" y="0">3</text>
</g>
<text transform="translate(1251.54 679.23) rotate(-90) scale(1.0120 1)" font-size="22.0" font-weight="bold">N5</text>
<g transform="translate(1272.21 691.33) rotate(-90) scale(1.0120 1)" font-size="22.0" font-weight="bold">
<text x="0.00" y="0">N</text>
<path transform="translate(15.89 0) scale(0.01074 -0.01074)" d="M806,0L525,0L525,1059Q371,915 162,846L162,1101Q272,1137 401,1237.5Q530,1338 578,1472L806,1472Z"/>
<text x="28.12" y="0">2</text>
</g>
<g transform="translate(1292.89 703.96) rotate(-90) scale(1.0120 1)" font-size="22.0" font-weight="bold">
<text x="0.00" y="0">U</text>
<path transform="translate(15.89 0) scale(0.01074 -0.01074)" d="M806,0L525,0L525,1059Q371,915 162,846L162,1101Q272,1137 401,1237.5Q530,1338 578,1472L806,1472Z"/>
<text x="28.12" y="0">35</text>
</g>
<text transform="translate(1313.56 691.59) rotate(-90) scale(1.0120 1)" font-size="22.0" font-weight="bold">U45</text>
<g transform="translate(1334.24 703.91) rotate(-90) scale(1.0120 1)" font-size="22.0" font-weight="bold">
<text x="0.00" y="0">U</text>
<path transform="translate(15.89 0) scale(0.01074 -0.01074)" d="M806,0L525,0L525,1059Q371,915 162,846L162,1101Q272,1137 401,1237.5Q530,1338 578,1472L806,1472Z"/>
<text x="28.12" y="0">78</text>
</g>
<text transform="translate(1354.91 678.90) rotate(-90) scale(1.0120 1)" font-size="22.0" font-weight="bold">N7</text>
<text transform="translate(22.40 327.40) rotate(-90) scale(1.0629 1)" font-size="29.6" stroke="#000" stroke-width="0.9">Harmful</text>
<text transform="translate(22.40 545.17) rotate(-90) scale(1.1562 1)" font-size="29.6" stroke="#000" stroke-width="0.9">Irritant</text>
<text transform="translate(22.40 609.50) rotate(-90) scale(1.0225 1)" font-size="29.6" stroke="#000" stroke-width="0.9">ND</text>
<g fill="none" stroke="#000" stroke-width="3.8">
<path d="M55,93.1 H41 V440.6 H55"/>
<path d="M53.7,449.4 H39.4 V535.7 H53.7"/>
<path d="M56.6,545.6 H42 V631.5 H56.6"/>
</g>
<rect x="1383" y="94" width="45" height="544" fill="url(#cb)" stroke="#000" stroke-width="3.6"/>
<g stroke="#000" stroke-width="3.4">
<path d="M1384,151.3 h7.2 M1427,151.3 h-7.2"/>
<path d="M1384,258.1 h7.2 M1427,258.1 h-7.2"/>
<path d="M1384,365.1 h7.2 M1427,365.1 h-7.2"/>
<path d="M1384,472.2 h7.2 M1427,472.2 h-7.2"/>
<path d="M1384,578.7 h7.2 M1427,578.7 h-7.2"/>
</g>
<g transform="translate(1446.86 163.60) scale(0.9675 1)" font-size="30.6" font-weight="bold">
<path transform="translate(0.00 0) scale(0.01494 -0.01494)" d="M806,0L525,0L525,1059Q371,915 162,846L162,1101Q272,1137 401,1237.5Q530,1338 578,1472L806,1472Z"/>
<text x="17.02" y="0">00</text>
</g>
<g transform="translate(1446.86 266.10) scale(0.9685 1)" font-size="30.6" font-weight="bold">
<path transform="translate(0.00 0) scale(0.01494 -0.01494)" d="M806,0L525,0L525,1059Q371,915 162,846L162,1101Q272,1137 401,1237.5Q530,1338 578,1472L806,1472Z"/>
<text x="17.02" y="0">0</text>
</g>
<g transform="translate(1446.53 368.10) scale(1.1016 1)" font-size="30.6" font-weight="bold">
<path transform="translate(0.00 0) scale(0.01494 -0.01494)" d="M806,0L525,0L525,1059Q371,915 162,846L162,1101Q272,1137 401,1237.5Q530,1338 578,1472L806,1472Z"/>
</g>
<g transform="translate(1444.58 484.50) scale(0.9989 1)" font-size="30.6" font-weight="bold">
<text x="0.00" y="0">0.</text>
<path transform="translate(25.52 0) scale(0.01494 -0.01494)" d="M806,0L525,0L525,1059Q371,915 162,846L162,1101Q272,1137 401,1237.5Q530,1338 578,1472L806,1472Z"/>
</g>
<g transform="translate(1444.57 586.60) scale(1.0083 1)" font-size="30.6" font-weight="bold">
<text x="0.00" y="0">0.0</text>
<path transform="translate(42.54 0) scale(0.01494 -0.01494)" d="M806,0L525,0L525,1059Q371,915 162,846L162,1101Q272,1137 401,1237.5Q530,1338 578,1472L806,1472Z"/>
</g>
<text transform="translate(637.07 802.00) scale(0.9846 1)" font-size="45.6" font-weight="bold">E-Cigarette Products</text>
<text x="-4.3" y="1036.9" font-size="89.5" font-weight="bold" fill="#27273f">b<tspan dx="1.6">.</tspan></text>
<text transform="translate(213.76 1040.40) scale(0.9928 1)" font-size="45.4" font-weight="bold">Menthol (HD = 6.8)</text>
<g stroke="#333333" stroke-width="3.1" fill="none">
<path d="M138.7,1097.8500000000001 V1459.7 M128.5,1459.7 H683.55"/>
<path d="M132.89999999999998,1429.7 H138.7 M132.89999999999998,1399.7 H138.7 M132.89999999999998,1369.6 H138.7 M132.89999999999998,1339.6 H138.7 M132.89999999999998,1309.6 H138.7 M128.5,1279.6 H138.7 M132.89999999999998,1249.5 H138.7 M132.89999999999998,1219.5 H138.7 M132.89999999999998,1189.5 H138.7 M132.89999999999998,1159.5 H138.7 M132.89999999999998,1129.4 H138.7 M128.5,1099.4 H138.7"/>
<path d="M137.9,1459.7 v5.2 M164.8,1459.7 v5.2 M185.7,1459.7 v5.2 M202.8,1459.7 v5.2 M217.2,1459.7 v5.2 M229.7,1459.7 v5.2 M240.7,1459.7 v5.2 M250.6,1459.7 v10 M315.5,1459.7 v5.2 M353.5,1459.7 v5.2 M380.4,1459.7 v5.2 M401.3,1459.7 v5.2 M418.4,1459.7 v5.2 M432.8,1459.7 v5.2 M445.3,1459.7 v5.2 M456.3,1459.7 v5.2 M466.2,1459.7 v10 M531.1,1459.7 v5.2 M569.1,1459.7 v5.2 M596.0,1459.7 v5.2 M616.9,1459.7 v5.2 M634.0,1459.7 v5.2 M648.4,1459.7 v5.2 M660.9,1459.7 v5.2 M671.9,1459.7 v5.2 M681.8,1459.7 v10"/>
</g>
<g transform="translate(56.28 1113.40) scale(0.9932 1)" font-size="41.0" font-weight="bold" fill="#333333">
<path transform="translate(0.00 0) scale(0.02002 -0.02002)" d="M806,0L525,0L525,1059Q371,915 162,846L162,1101Q272,1137 401,1237.5Q530,1338 578,1472L806,1472Z"/>
<text x="22.80" y="0">20</text>
</g>
<text transform="translate(79.60 1293.60) scale(0.9780 1)" font-size="41.0" font-weight="bold" fill="#333333">60</text>
<text transform="translate(101.46 1473.80) scale(1.0013 1)" font-size="41.0" font-weight="bold" fill="#333333">0</text>
<g transform="translate(222.16 1511.60) scale(1.0022 1)" font-size="41.0" font-weight="bold" fill="#333333">
<text x="0.00" y="0">0.</text>
<path transform="translate(34.19 0) scale(0.02002 -0.02002)" d="M806,0L525,0L525,1059Q371,915 162,846L162,1101Q272,1137 401,1237.5Q530,1338 578,1472L806,1472Z"/>
</g>
<g transform="translate(455.18 1511.60) scale(0.9928 1)" font-size="41.0" font-weight="bold" fill="#333333">
<path transform="translate(0.00 0) scale(0.02002 -0.02002)" d="M806,0L525,0L525,1059Q371,915 162,846L162,1101Q272,1137 401,1237.5Q530,1338 578,1472L806,1472Z"/>
</g>
<g transform="translate(658.36 1511.60) scale(0.9982 1)" font-size="41.0" font-weight="bold" fill="#333333">
<path transform="translate(0.00 0) scale(0.02002 -0.02002)" d="M806,0L525,0L525,1059Q371,915 162,846L162,1101Q272,1137 401,1237.5Q530,1338 578,1472L806,1472Z"/>
<text x="22.80" y="0">0</text>
</g>
<text transform="translate(40.90 1439.20) rotate(-90) scale(0.8979 1)" font-size="42.9" font-weight="bold">Percent of Control</text>
<text transform="translate(198.76 1568.20) scale(0.8953 1)" font-size="43.0" font-weight="bold">Concentration (mg/mL)</text>
<path d="M241.2,1196.3 V1220.3 M234.1,1196.3 h14.2 M234.1,1220.3 h14.2" stroke="#ff0000" stroke-width="3.4" fill="none"/>
<path d="M357.1,1191.3 V1220.8 M350.0,1191.3 h14.2 M350.0,1220.8 h14.2" stroke="#ff0000" stroke-width="3.4" fill="none"/>
<path d="M445.8,1202.7 V1258.9 M438.7,1202.7 h14.2 M438.7,1258.9 h14.2" stroke="#ff0000" stroke-width="3.4" fill="none"/>
<path d="M544.1,1409.3 V1446.2 M537.0,1409.3 h14.2 M537.0,1446.2 h14.2" stroke="#ff0000" stroke-width="3.4" fill="none"/>
<polyline points="241.2,1208.0 357.1,1206.0 445.8,1230.2 544.1,1428.0 646.3,1455.4" fill="none" stroke="#ff0000" stroke-width="4" stroke-linejoin="round"/>
<polygon points="233.5,1201.1 248.89999999999998,1201.1 241.2,1214.9" fill="#ff0000"/>
<polygon points="349.40000000000003,1199.1 364.8,1199.1 357.1,1212.9" fill="#ff0000"/>
<polygon points="438.1,1223.3 453.5,1223.3 445.8,1237.1000000000001" fill="#ff0000"/>
<polygon points="536.4,1421.1 551.8000000000001,1421.1 544.1,1434.9" fill="#ff0000"/>
<polygon points="638.5999999999999,1448.5 654.0,1448.5 646.3,1462.3000000000002" fill="#ff0000"/>
<path d="M357.1,1138.2 V1171.1 M350.0,1138.2 h14.2 M350.0,1171.1 h14.2" stroke="#0000ff" stroke-width="3.4" fill="none"/>
<path d="M445.8,1147.8 V1169.1 M438.7,1147.8 h14.2 M438.7,1169.1 h14.2" stroke="#0000ff" stroke-width="3.4" fill="none"/>
<polyline points="241.0,1160.1 357.1,1154.7 445.8,1159.1 544.1,1430.2 646.3,1453.8" fill="none" stroke="#0000ff" stroke-width="4" stroke-linejoin="round"/>
<polygon points="234.3,1160.1 241.0,1152.6999999999998 247.7,1160.1 241.0,1167.5" fill="#0000ff"/>
<polygon points="350.40000000000003,1154.7 357.1,1147.3 363.8,1154.7 357.1,1162.1000000000001" fill="#0000ff"/>
<polygon points="439.1,1159.1 445.8,1151.6999999999998 452.5,1159.1 445.8,1166.5" fill="#0000ff"/>
<polygon points="537.4,1430.2 544.1,1422.8 550.8000000000001,1430.2 544.1,1437.6000000000001" fill="#0000ff"/>
<polygon points="639.5999999999999,1453.8 646.3,1446.3999999999999 653.0,1453.8 646.3,1461.2" fill="#0000ff"/>
<path d="M163.2,1364.1 H201.4" stroke="#0000ff" stroke-width="4"/>
<polygon points="174.29999999999998,1364.1 182.1,1356.6999999999998 189.9,1364.1 182.1,1371.5" fill="#0000ff"/>
<path d="M164.2,1416.2 H203.4" stroke="#ff0000" stroke-width="4"/>
<polygon points="175.79999999999998,1408.9 191.4,1408.9 183.6,1423.5" fill="#ff0000"/>
<text transform="translate(221.90 1375.70) scale(0.9945 1)" font-size="34.5">hPF</text>
<text transform="translate(222.98 1428.60) scale(1.0255 1)" font-size="34.5">BEAS2-B</text>
<g font-size="28.6" font-weight="bold" text-anchor="middle">
<text x="542.6" y="1340" fill="#0000ff">d</text><text x="542.6" y="1374.1" fill="#ff0000">d</text>
<text x="646.2" y="1396.5" fill="#0000ff">d</text><text x="646.2" y="1430.6" fill="#ff0000">d</text>
</g>
<text x="765.0" y="1036.7" font-size="90" font-weight="bold" fill="#27273f">c<tspan dx="2.0">.</tspan></text>
<g transform="translate(929.76 1046.80) scale(0.9912 1)" font-size="45.4" font-weight="bold">
<text x="0.00" y="0">Ethyl Maltol (HD = 3.</text>
<path transform="translate(437.68 0) scale(0.02217 -0.02217)" d="M806,0L525,0L525,1059Q371,915 162,846L162,1101Q272,1137 401,1237.5Q530,1338 578,1472L806,1472Z"/>
<text x="462.93" y="0">3)</text>
</g>
<g stroke="#333333" stroke-width="3.1" fill="none">
<path d="M909.3,1106.8500000000001 V1463.6 M899.0999999999999,1463.6 H1451.55"/>
<path d="M903.5,1434.0 H909.3 M903.5,1404.4 H909.3 M903.5,1374.8 H909.3 M903.5,1345.2 H909.3 M903.5,1315.6 H909.3 M899.0999999999999,1286.0 H909.3 M903.5,1256.4 H909.3 M903.5,1226.8 H909.3 M903.5,1197.2 H909.3 M903.5,1167.6 H909.3 M903.5,1138.0 H909.3 M899.0999999999999,1108.4 H909.3"/>
<path d="M908.4,1463.6 v5.2 M943.7,1463.6 v5.2 M968.8,1463.6 v5.2 M988.2,1463.6 v5.2 M1004.1,1463.6 v5.2 M1017.5,1463.6 v5.2 M1029.2,1463.6 v5.2 M1039.4,1463.6 v5.2 M1048.6,1463.6 v10 M1109.0,1463.6 v5.2 M1144.3,1463.6 v5.2 M1169.4,1463.6 v5.2 M1188.8,1463.6 v5.2 M1204.7,1463.6 v5.2 M1218.1,1463.6 v5.2 M1229.8,1463.6 v5.2 M1240.0,1463.6 v5.2 M1249.2,1463.6 v10 M1309.6,1463.6 v5.2 M1344.9,1463.6 v5.2 M1370.0,1463.6 v5.2 M1389.4,1463.6 v5.2 M1405.3,1463.6 v5.2 M1418.7,1463.6 v5.2 M1430.4,1463.6 v5.2 M1440.6,1463.6 v5.2 M1449.8,1463.6 v10"/>
</g>
<g transform="translate(826.76 1122.00) scale(0.9995 1)" font-size="41.0" font-weight="bold" fill="#333333">
<path transform="translate(0.00 0) scale(0.02002 -0.02002)" d="M806,0L525,0L525,1059Q371,915 162,846L162,1101Q272,1137 401,1237.5Q530,1338 578,1472L806,1472Z"/>
<text x="22.80" y="0">20</text>
</g>
<text transform="translate(849.98 1299.80) scale(0.9898 1)" font-size="41.0" font-weight="bold" fill="#333333">60</text>
<text transform="translate(872.57 1477.60) scale(0.9910 1)" font-size="41.0" font-weight="bold" fill="#333333">0</text>
<g transform="translate(1020.30 1515.90) scale(1.0351 1)" font-size="41.0" font-weight="bold" fill="#333333">
<text x="0.00" y="0">0.</text>
<path transform="translate(34.19 0) scale(0.02002 -0.02002)" d="M806,0L525,0L525,1059Q371,915 162,846L162,1101Q272,1137 401,1237.5Q530,1338 578,1472L806,1472Z"/>
</g>
<g transform="translate(1237.45 1515.70) scale(1.0316 1)" font-size="41.0" font-weight="bold" fill="#333333">
<path transform="translate(0.00 0) scale(0.02002 -0.02002)" d="M806,0L525,0L525,1059Q371,915 162,846L162,1101Q272,1137 401,1237.5Q530,1338 578,1472L806,1472Z"/>
</g>
<g transform="translate(1427.63 1515.70) scale(0.9760 1)" font-size="41.0" font-weight="bold" fill="#333333">
<path transform="translate(0.00 0) scale(0.02002 -0.02002)" d="M806,0L525,0L525,1059Q371,915 162,846L162,1101Q272,1137 401,1237.5Q530,1338 578,1472L806,1472Z"/>
<text x="22.80" y="0">0</text>
</g>
<text transform="translate(810.00 1446.00) rotate(-90) scale(0.8985 1)" font-size="42.9" font-weight="bold">Percent of Control</text>
<text transform="translate(968.77 1572.80) scale(0.8904 1)" font-size="43.0" font-weight="bold">Concentration (mg/mL)</text>
<polyline points="944.5,1167.6 1049.0,1223.0 1144.5,1428.1 1249.5,1452.5 1348.3,1455.8" fill="none" stroke="#ff0000" stroke-width="3.7" stroke-linejoin="round"/>
<polygon points="936.9,1160.6999999999998 952.1,1160.6999999999998 944.5,1174.5" fill="#ff0000"/>
<polygon points="1041.4,1216.1 1056.6,1216.1 1049.0,1229.9" fill="#ff0000"/>
<polygon points="1136.9,1421.1999999999998 1152.1,1421.1999999999998 1144.5,1435.0" fill="#ff0000"/>
<polygon points="1241.9,1445.6 1257.1,1445.6 1249.5,1459.4" fill="#ff0000"/>
<polygon points="1340.7,1448.8999999999999 1355.8999999999999,1448.8999999999999 1348.3,1462.7" fill="#ff0000"/>
<path d="M1049.0,1153.7 V1187.1 M1041.9,1153.7 h14.2 M1041.9,1187.1 h14.2" stroke="#0000ff" stroke-width="3.3" fill="none"/>
<path d="M1144.5,1281.9 V1329.9 M1137.4,1281.9 h14.2 M1137.4,1329.9 h14.2" stroke="#0000ff" stroke-width="3.3" fill="none"/>
<path d="M1249.6,1355.8 V1375.0 M1242.5,1355.8 h14.2 M1242.5,1375.0 h14.2" stroke="#0000ff" stroke-width="3.3" fill="none"/>
<polyline points="944.3,1181.5 1049.0,1170.1 1144.5,1305.8 1249.6,1365.4 1348.3,1403.9" fill="none" stroke="#0000ff" stroke-width="3.7" stroke-linejoin="round"/>
<circle cx="944.3" cy="1181.5" r="7.3" fill="#0000ff"/>
<circle cx="1049.0" cy="1170.1" r="7.3" fill="#0000ff"/>
<circle cx="1144.5" cy="1305.8" r="7.3" fill="#0000ff"/>
<circle cx="1249.6" cy="1365.4" r="7.3" fill="#0000ff"/>
<circle cx="1348.3" cy="1403.9" r="7.3" fill="#0000ff"/>
<path d="M922.9,1391.6 H961.5" stroke="#0000ff" stroke-width="3.7"/>
<circle cx="942.0" cy="1391.7" r="7.7" fill="#0000ff"/>
<path d="M922.9,1436.2 H961.5" stroke="#ff0000" stroke-width="3.7"/>
<polygon points="934.2,1429.1000000000001 949.8,1429.1000000000001 942.0,1443.3" fill="#ff0000"/>
<text transform="translate(981.58 1403.20) scale(1.0329 1)" font-size="33.5">hPF</text>
<text transform="translate(981.78 1448.60) scale(1.0561 1)" font-size="33.5">BEAS-2B</text>
<g font-size="28.2" font-weight="bold" text-anchor="middle">
<text x="1144.2" y="1223.6" fill="#0000ff">a</text><text x="1144.2" y="1257.8" fill="#ff0000">d</text>
<text x="1250.0" y="1293.3" fill="#0000ff">b</text><text x="1250.0" y="1328.2" fill="#ff0000">d</text>
<text x="1349.5" y="1343.8" fill="#0000ff">c</text><text x="1349.5" y="1377.9" fill="#ff0000">d</text>
</g>
</svg></body></html>
